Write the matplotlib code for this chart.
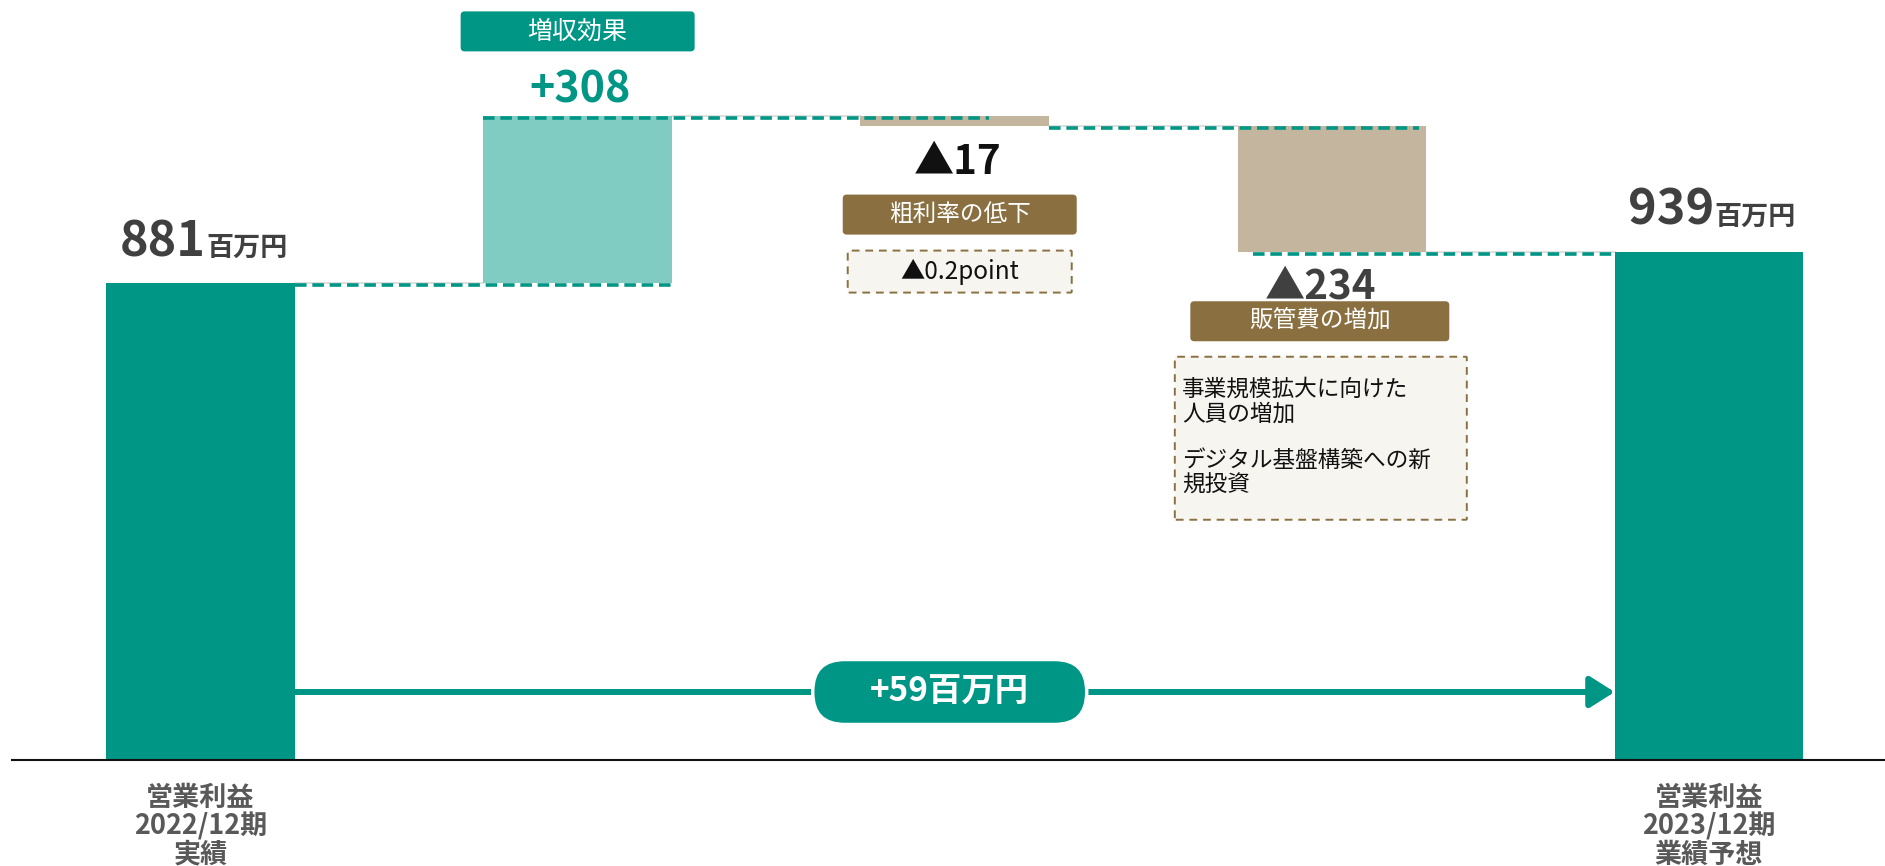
"""Operating profit bridge 2022/12 -> 2023/12 as a waterfall chart (matplotlib, headless)."""

import matplotlib

matplotlib.use("Agg")
import matplotlib.pyplot as plt  # noqa: E402
from matplotlib.patches import FancyBboxPatch  # noqa: E402

# --- data -------------------------------------------------------------------
categories = [
    "営業利益\n2022/12期\n実績",
    "増収効果",
    "粗利率の低下",
    "販管費の増加",
    "営業利益\n2023/12期\n業績予想",
]
kinds = ["total", "delta", "delta", "delta", "total"]
values = [881, 308, -17, -234, 939]
value_labels = ["881", "+308", "▲17", "▲234", "939"]
unit = "百万円"
gross_margin_note = "▲0.2point"
sga_notes = ["事業規模拡大に向けた\n人員の増加", "デジタル基盤構築への新\n規投資"]
change_label = "+59百万円"

# --- style ------------------------------------------------------------------
TEAL = "#009685"
TEAL_LIGHT = "#80CBC2"
TAN = "#C4B69E"
BROWN = "#8A7041"
NOTE_BG = "#F6F5F0"
DARK = "#404040"
LABEL_GREY = "#595959"

plt.rcParams["font.family"] = ["Noto Sans CJK JP", "DejaVu Sans"]

W, H, DPI = 1885, 866, 100
XLIM = (-0.5, 4.467)
YLIM = (0, 1404)
fig = plt.figure(figsize=(W / DPI, H / DPI), dpi=DPI)
ax = fig.add_axes([12 / W, 106 / H, 1873 / W, 760 / H])
ax.set_xlim(*XLIM)
ax.set_ylim(*YLIM)
SX = (XLIM[1] - XLIM[0]) / 1873  # data units per pixel
SY = (YLIM[1] - YLIM[0]) / 760


def px_box(cx, cy, w, h, face, edge="none", ls="-", lw=0.0, r=4, z=4):
    box = FancyBboxPatch(
        (cx - w * SX / 2, cy - h * SY / 2), w * SX, h * SY,
        boxstyle=f"round,pad=0,rounding_size={r * SX}",
        mutation_aspect=SY / SX, facecolor=face, edgecolor=edge,
        linestyle=ls, linewidth=lw, zorder=z,
    )
    ax.add_patch(box)
    return box


# --- waterfall bars ---------------------------------------------------------
bottoms, heights, levels, colors = [], [], [], []
running = 0
for kind, v in zip(kinds, values):
    if kind == "total":
        bottoms.append(0)
        running = v
        colors.append(TEAL)
    else:
        bottoms.append(running)
        running += v
        colors.append(TEAL_LIGHT if v > 0 else TAN)
    heights.append(v)
    levels.append(running)

xs = list(range(len(values)))
ax.bar(xs, heights, width=0.5, bottom=bottoms, color=colors, zorder=2)
tops = [max(b, b + h) for b, h in zip(bottoms, heights)]
lows = [min(b, b + h) for b, h in zip(bottoms, heights)]

# connectors: thin grey bridge plus teal dashed guide
conn_spans = [(0.25, 1.25), (0.75, 2.09), (2.25, 3.23), (2.79, 3.75)]
for i, span in enumerate(conn_spans):
    lvl = levels[i]
    ax.plot([i + 0.25, i + 0.75], [lvl, lvl], color="#D9D9D9", lw=1.2, zorder=1)
    ax.plot(span, [lvl - 2 * SY, lvl - 2 * SY], color=TEAL, lw=2.6,
            ls=(0, (3.2, 1.6)), zorder=3)

# --- value labels -----------------------------------------------------------
for i, kind in enumerate(kinds):
    if kind == "total":
        ax.annotate(value_labels[i], (i, tops[i]), xytext=(5, 27), textcoords="offset pixels",
                    ha="right", va="baseline", fontsize=35, weight="bold", color=DARK)
        ax.annotate(unit, (i, tops[i]), xytext=(6, 27), textcoords="offset pixels",
                    ha="left", va="baseline", fontsize=19.5, weight="bold", color=DARK)
    elif values[i] > 0:
        ax.annotate(value_labels[i], (i, tops[i]), xytext=(2, 14), textcoords="offset pixels",
                    ha="center", va="baseline", fontsize=31, weight="bold", color=TEAL)

ax.annotate(value_labels[2], (2, lows[2]), xytext=(3, -48), textcoords="offset pixels",
            ha="center", va="baseline", fontsize=29, weight="bold", color="#111111")
ax.annotate(value_labels[3], (3, lows[3]), xytext=(-11, -46), textcoords="offset pixels",
            ha="center", va="baseline", fontsize=29, weight="bold", color=DARK)

# --- category boxes ---------------------------------------------------------
# (x offset px, y offset px from bar edge, box width px)
box_layout = {1: (0, 85, 234, TEAL), 2: (5, -89, 234, BROWN), 3: (-12, -69, 259, BROWN)}
for i, (dx, dy, bw, face) in box_layout.items():
    ref = tops[i] if dy > 0 else lows[i]
    cx, cy = i + dx * SX, ref + dy * SY
    px_box(cx, cy, bw, 40, face)
    ax.text(cx, cy, categories[i], ha="center", va="center",
            fontsize=18 if dy > 0 else 17, color="white", zorder=5)

# --- note boxes -------------------------------------------------------------
cx, cy = 2 + 5 * SX, lows[2] - 146 * SY
px_box(cx, cy, 224, 42, NOTE_BG, edge=BROWN, ls=(0, (4, 3)), lw=1.4, r=1)
ax.text(cx, cy, gross_margin_note, ha="center", va="center", fontsize=17.5,
        color="#111111", zorder=5)

cx, cy = 3 - 11 * SX, lows[3] - 186 * SY
px_box(cx, cy, 292, 163, NOTE_BG, edge=BROWN, ls=(0, (4, 3)), lw=1.4, r=1)
left, top = cx - 139 * SX, cy + 81.5 * SY
for k, note in enumerate(sga_notes):
    ax.text(left, top - (21 + 71 * k) * SY, note, ha="left", va="top", fontsize=16.3,
            color="#111111", linespacing=1.12, zorder=5)

# --- overall change arrow ---------------------------------------------------
arrow_y = 68 * SY
ax.annotate("", xy=(3.75, arrow_y), xytext=(0.25, arrow_y),
            arrowprops=dict(arrowstyle="-|>,head_length=1.5,head_width=0.95", lw=4.3,
                            color=TEAL, shrinkA=0, shrinkB=0, mutation_scale=10),
            zorder=1.5)
px_box(2 - 5 * SX, arrow_y, 274, 65, TEAL, edge="white", lw=2.5, r=32)
ax.text(2 - 5 * SX, arrow_y, change_label, ha="center", va="center", fontsize=24,
        weight="bold", color="white", zorder=5)

# --- axes -------------------------------------------------------------------
for side in ["top", "right", "left"]:
    ax.spines[side].set_visible(False)
ax.spines["bottom"].set_linewidth(1.5)
ax.spines["bottom"].set_color("#111111")
ax.set_yticks([])
ax.set_xticks(xs)
ax.set_xticklabels([c if k == "total" else "" for c, k in zip(categories, kinds)],
                   fontsize=19.5, weight="bold", color=LABEL_GREY, linespacing=1.02)
ax.tick_params(axis="x", length=0, pad=17)

fig.savefig("out.png", dpi=DPI)
plt.close(fig)
